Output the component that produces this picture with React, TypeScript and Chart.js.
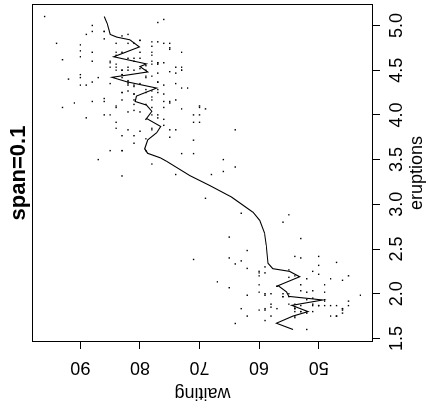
import { useEffect, useRef } from 'react';
import { Chart, registerables } from 'chart.js';

Chart.register(...registerables);

// Old Faithful data: eruption duration (min) and waiting time (min)
const eruptions = [3.6,1.8,3.333,2.283,4.533,2.883,4.7,3.6,1.95,4.35,1.833,3.917,4.2,1.75,4.7,2.167,1.75,4.8,1.6,4.25,1.8,1.75,3.45,3.067,4.533,3.6,1.967,4.083,3.85,4.433,4.3,4.467,3.367,4.033,3.833,2.017,1.867,4.833,1.833,4.783,4.35,1.883,4.567,1.75,4.533,3.317,3.833,2.1,4.633,2,4.8,4.716,1.833,4.833,1.733,4.883,3.717,1.667,4.567,4.317,2.233,4.5,1.75,4.8,1.817,4.4,4.167,4.7,2.067,4.7,4.033,1.967,4.5,4,1.983,5.067,2.017,4.567,3.883,3.6,4.133,4.333,4.1,2.633,4.067,4.933,3.95,4.517,2.167,4,2.2,4.333,1.867,4.817,1.833,4.3,4.667,3.75,1.867,4.9,2.483,4.367,2.1,4.5,4.05,1.867,4.7,1.783,4.85,3.683,4.733,2.3,4.9,4.417,1.7,4.633,2.317,4.6,1.817,4.417,2.617,4.067,4.25,1.967,4.6,3.767,1.917,4.5,2.267,4.65,1.867,4.167,2.8,4.333,1.833,4.383,1.883,4.933,2.033,3.733,4.233,2.233,4.533,4.817,4.333,1.983,4.633,2.017,5.1,1.8,5.033,4,2.4,4.6,3.567,4,4.5,4.083,1.8,3.967,2.2,4.15,2,3.833,3.5,4.583,2.367,5,1.933,4.617,1.917,2.083,4.583,3.333,4.167,4.333,4.5,2.417,4,4.167,1.883,4.583,4.25,3.767,2.033,4.433,4.083,1.833,4.417,2.183,4.8,1.833,4.8,4.1,3.966,4.233,3.5,4.366,2.25,4.667,2.1,4.35,4.133,1.867,4.6,1.783,4.367,3.85,1.933,4.5,2.383,4.7,1.867,3.833,3.417,4.233,2.4,4.8,2,4.15,1.867,4.267,1.75,4.483,4,4.117,4.083,4.267,3.917,4.55,4.083,2.417,4.183,2.217,4.45,1.883,1.85,4.283,3.95,2.333,4.15,2.35,4.933,2.9,4.583,3.833,2.083,4.367,2.133,4.35,2.2,4.45,3.567,4.5,4.15,3.817,3.917,4.45,2,4.283,4.767,4.533,1.85,4.25,1.983,2.25,4.75,4.117,2.15,4.417,1.817,4.467];
const waiting = [79,54,74,62,85,55,88,85,51,85,54,84,78,47,83,52,62,84,52,79,51,47,78,69,74,83,55,76,78,79,73,77,66,80,74,52,48,80,59,90,80,58,84,58,73,83,64,53,82,59,75,90,54,80,54,83,71,64,77,81,59,84,48,82,60,92,78,78,65,73,82,56,79,71,62,76,60,78,76,83,75,82,70,65,73,88,76,80,48,86,60,90,50,78,63,72,84,75,51,82,62,88,49,83,81,47,84,52,86,81,75,59,89,79,59,81,50,85,59,87,53,69,77,56,88,81,45,82,55,90,45,83,56,89,46,82,51,86,53,79,81,60,82,77,76,59,80,49,96,53,77,77,65,81,71,70,81,93,53,89,45,86,58,78,66,76,63,88,52,93,49,57,77,68,81,81,73,50,85,74,55,77,83,83,51,78,84,46,83,55,81,57,76,84,77,81,87,77,51,78,60,82,91,53,78,46,77,84,49,83,71,80,49,75,64,76,53,94,55,76,50,82,54,75,78,79,78,78,70,79,70,54,86,50,90,54,54,77,79,64,75,47,86,63,85,82,57,82,67,74,54,83,73,73,88,80,71,83,56,79,78,84,58,83,43,60,75,81,46,90,46,74];

// Smoothed curve (span = 0.1)
const smoothEruptions = [1.60,1.67,1.75,1.80,1.87,1.93,1.97,2.02,2.09,2.19,2.25,2.28,2.34,2.54,2.68,2.82,2.91,3.08,3.21,3.32,3.48,3.52,3.57,3.62,3.72,3.80,3.87,3.96,4.04,4.11,4.15,4.21,4.30,4.37,4.42,4.48,4.54,4.57,4.65,4.76,4.84,4.87,4.90,5.02,5.10];
const smoothWaiting = [54.3,57.1,54.3,51.8,54.5,49.3,55.0,55.4,56.8,53.2,54.9,57.7,58.5,58.8,59.1,59.9,61.0,64.6,68.3,71.6,75.5,76.6,78.7,79.2,78.7,77.2,76.5,78.9,78.0,78.9,80.8,80.6,77.2,82.2,84.7,78.7,80.0,78.9,84.4,80.1,81.7,83.9,85.0,85.5,86.0];

const eruptionTicks = [1.5, 2.0, 2.5, 3.0, 3.5, 4.0, 4.5, 5.0];
const eruptionTickLabels = ['1.5', '2.0', '2.5', '3.0', '3.5', '4.0', '4.5', '5.0'];
const waitingTicks = [50, 60, 70, 80, 90];
const waitingTickLabels = ['50', '60', '70', '80', '90'];

const titleText = 'span=0.1';
const xTitle = 'eruptions';
const yTitle = 'waiting';

const W = 413;
const H = 428;
const FONT = "'Liberation Sans', Arial, Helvetica, sans-serif";

export default function App() {
  const ref = useRef<HTMLCanvasElement>(null);

  useEffect(() => {
    if (!ref.current) return;
    const boxPlugin = {
      id: 'rbox',
      afterDraw(chart: any) {
        const { ctx, chartArea: a } = chart;
        ctx.save();
        ctx.strokeStyle = '#000';
        ctx.lineWidth = 1;
        ctx.strokeRect(Math.round(a.left) + 0.5, Math.round(a.top) + 0.5, Math.round(a.right - a.left) - 1, Math.round(a.bottom - a.top) - 1);
        ctx.restore();
      },
    };

    const points = eruptions.map((e, i) => ({ x: e, y: waiting[i] }));
    const curve = smoothEruptions.map((e, i) => ({ x: e, y: smoothWaiting[i] }));

    const chart = new Chart(ref.current, {
      type: 'scatter',
      data: {
        datasets: [
          {
            data: points,
            pointStyle: 'rect',
            pointRadius: 1,
            pointBorderWidth: 0,
            pointBackgroundColor: '#000',
            backgroundColor: '#000',
            borderColor: '#000',
            showLine: false,
          },
          {
            data: curve,
            showLine: true,
            pointRadius: 0,
            borderColor: '#000',
            borderWidth: 1.1,
            tension: 0,
            fill: false,
          },
        ],
      },
      options: {
        responsive: false,
        animation: false,
        devicePixelRatio: 1,
        layout: { padding: { left: 0, right: 2, top: 0, bottom: 0 } },
        plugins: {
          legend: { display: false },
          tooltip: { enabled: false },
          title: {
            display: true,
            text: titleText,
            color: '#000',
            fullSize: false,
            font: { family: FONT, size: 22, weight: 'bold', lineHeight: 1 },
            padding: { top: 8.4, bottom: 1.6 },
          },
        },
        scales: {
          x: {
            type: 'linear',
            position: 'bottom',
            min: 1.46,
            max: 5.24,
            afterBuildTicks: (s: any) => { s.ticks = eruptionTicks.map((v) => ({ value: v })); },
            afterFit: (s: any) => { s.height = 55; s.paddingLeft = 0; s.paddingRight = 0; },
            ticks: {
              color: '#000',
              font: { family: FONT, size: 18 },
              padding: 6,
              maxRotation: 0,
              minRotation: 0,
              autoSkip: false,
              callback: (_v: any, i: number) => eruptionTickLabels[i],
            },
            grid: { drawOnChartArea: false, drawTicks: true, tickLength: 7, color: '#000', lineWidth: 1 },
            border: { display: false },
            title: {
              display: true,
              text: xTitle,
              color: '#000',
              font: { family: FONT, size: 18 },
              padding: { top: 0, bottom: 0 },
            },
          },
          y: {
            type: 'linear',
            position: 'left',
            min: 40.88,
            max: 98.12,
            afterBuildTicks: (s: any) => { s.ticks = waitingTicks.map((v) => ({ value: v })); },
            afterFit: (s: any) => { s.width = 71; s.paddingTop = 0; s.paddingBottom = 0; },
            ticks: {
              color: '#000',
              font: { family: FONT, size: 18 },
              padding: 8,
              minRotation: 90,
              maxRotation: 90,
              crossAlign: 'center',
              autoSkip: false,
              callback: (_v: any, i: number) => waitingTickLabels[i],
            },
            grid: { drawOnChartArea: false, drawTicks: true, tickLength: 7, color: '#000', lineWidth: 1 },
            border: { display: false },
            title: {
              display: true,
              text: yTitle,
              color: '#000',
              font: { family: FONT, size: 18 },
              padding: { top: 9, bottom: 0 },
            },
          },
        },
      },
      plugins: [boxPlugin],
    } as any);
    return () => chart.destroy();
  }, []);

  return (
    <div
      style={{
        position: 'fixed',
        left: 0,
        top: 0,
        width: W,
        height: H,
        transformOrigin: '0 0',
        transform: `translateY(${W}px) rotate(-90deg)`,
        background: '#fff',
      }}
    >
      <canvas ref={ref} width={W} height={H} style={{ display: 'block' }} />
    </div>
  );
}
